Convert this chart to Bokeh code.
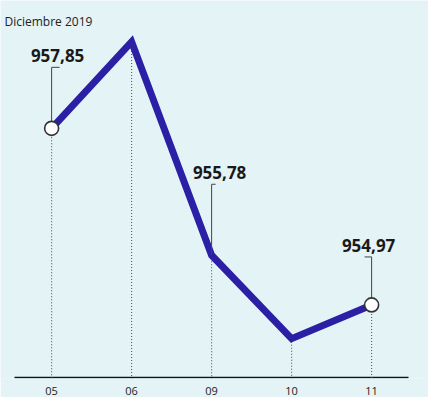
from bokeh.plotting import figure
from bokeh.models import Range1d, FixedTicker, Label
from bokeh.core.properties import value
from bokeh.embed import file_html
from bokeh.resources import INLINE

# ---- data ----
days = ["05", "06", "09", "10", "11"]
rates = [957.85, 959.26, 955.78, 954.42, 954.97]
label_days = ["05", "09", "11"]
label_texts = ["957,85", "955,78", "954,97"]
marker_days = ["05", "11"]
subtitle = "Diciembre 2019"

# ---- layout constants ----
FW, FH = 428, 378
X0 = -0.639
X1 = X0 + FW / 80.0
Y0, Y1 = 953.77, 959.935
upp = (Y1 - Y0) / FH          # data units per pixel (y)
xpp = (X1 - X0) / FW          # data units per pixel (x)
BG = "#e4f3f6"
LINE = "#2b1fa6"
FONT = "Open Sans"

xs = list(range(len(days)))
idx = {d: i for i, d in enumerate(days)}

p = figure(frame_width=FW, frame_height=FH, output_backend="svg",
           toolbar_location=None, y_axis_location=None,
           x_range=Range1d(X0, X1), y_range=Range1d(Y0, Y1),
           min_border=0, min_border_bottom=16)
p.background_fill_color = BG
p.border_fill_color = BG
p.outline_line_color = None
p.grid.visible = False

ax = p.xaxis[0]
ax.ticker = FixedTicker(ticks=xs)
ax.major_label_overrides = {i: d for i, d in enumerate(days)}
ax.axis_line_color = None
ax.major_tick_line_color = None
ax.minor_tick_line_color = None
ax.major_label_standoff = 2
ax.major_label_text_font = FONT
ax.major_label_text_font_size = "11px"
ax.major_label_text_color = "#222222"

# baseline
p.segment(x0=[X0 + 14 * xpp], y0=[Y0 + 1 * upp], x1=[X1 - 20 * xpp], y1=[Y0 + 1 * upp],
          line_color="#111111", line_width=1.6)

# dotted drop lines
p.segment(x0=xs, y0=rates, x1=xs, y1=[Y0] * len(xs),
          line_color="#555555", line_width=1.1, line_dash="1 2")

# main line
p.line(xs, rates, line_color=LINE, line_width=7, line_join="miter")

# leaders and value labels
leader_px = [61, 71, 48]
tick_px = [8, 4, -7]
label_dx = [6, 8, -3]
lx = [idx[d] for d in label_days]
ly = [rates[idx[d]] for d in label_days]
top = [y + h * upp for y, h in zip(ly, leader_px)]
p.segment(x0=lx, y0=ly, x1=lx, y1=top, line_color="#444444", line_width=1)
p.segment(x0=lx, y0=top, x1=[x + t * xpp for x, t in zip(lx, tick_px)], y1=top,
          line_color="#444444", line_width=1)
p.text(x=lx, y=ly, text=label_texts,
       x_offset=label_dx, y_offset=[-(h + 5) for h in leader_px],
       text_align="center", text_baseline="bottom",
       text_font=value(FONT), text_font_size="17px", text_font_style="bold",
       text_color="#1a1a1a")

# open markers
mx = [idx[d] for d in marker_days]
my = [rates[idx[d]] for d in marker_days]
p.scatter(mx, my, size=14, fill_color="white", line_color="#333333", line_width=1.6)

p.add_layout(Label(x=4, y=FH - 21, x_units="screen", y_units="screen",
                   text=subtitle, text_font=FONT, text_font_size="12px",
                   text_color="#222222", text_baseline="alphabetic"))

open("out.html", "w").write(file_html(p, INLINE))
